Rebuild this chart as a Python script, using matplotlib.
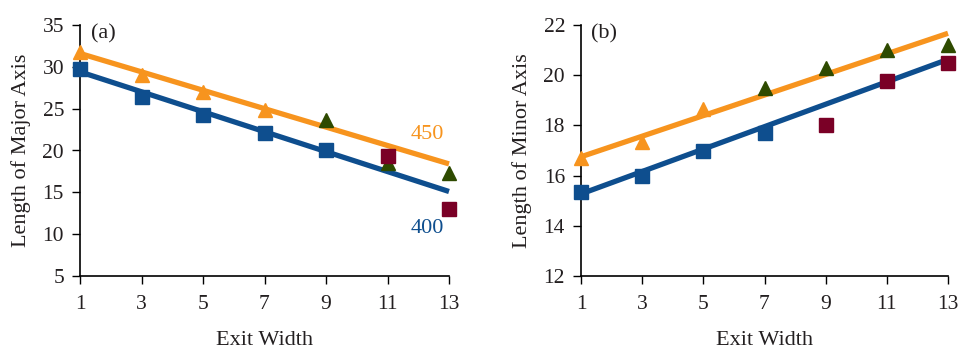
import matplotlib
matplotlib.use("Agg")
import matplotlib.pyplot as plt

plt.rcParams['font.family'] = ['Liberation Serif', 'DejaVu Serif']

# ---- data ----
exit_width = [1, 3, 5, 7, 9, 11, 13]

# Panel (a): Length of Major Axis
a_450_orange_x = [1, 3, 5, 7]
a_450_orange_y = [31.8, 29.0, 27.0, 24.9]
a_450_green_x = [9, 11, 13]
a_450_green_y = [23.6, 18.5, 17.3]
a_400_blue_x = [1, 3, 5, 7, 9]
a_400_blue_y = [29.7, 26.4, 24.3, 22.1, 20.0]
a_400_red_x = [11, 13]
a_400_red_y = [19.4, 13.0]
a_trend_x = [1, 13]
a_trend_450 = [31.6, 18.4]
a_trend_400 = [29.4, 15.1]

# Panel (b): Length of Minor Axis
b_450_orange_x = [1, 3, 5]
b_450_orange_y = [16.7, 17.35, 18.65]
b_450_green_x = [7, 9, 11, 13]
b_450_green_y = [19.5, 20.3, 21.0, 21.2]
b_400_blue_x = [1, 3, 5, 7]
b_400_blue_y = [15.33, 16.0, 17.0, 17.7]
b_400_red_x = [9, 11, 13]
b_400_red_y = [18.0, 19.78, 20.5]
b_trend_x = [1, 13]
b_trend_450 = [16.75, 21.67]
b_trend_400 = [15.27, 20.63]

a_yticks = [5, 10, 15, 20, 25, 30, 35]
b_yticks = [12, 14, 16, 18, 20, 22]

ORANGE = '#F7941E'
BLUE = '#0E4E8E'
GREEN = '#2E4A00'
RED = '#7A0026'
TXT = '#231F20'

fig = plt.figure(figsize=(9.69, 3.59), dpi=100)
ax_a = fig.add_axes([80/969, 83/359, 369/969, 251/359])
ax_b = fig.add_axes([581/969, 83/359, 367/969, 251/359])

def style(ax, ylim, yticks, ylabel, tag):
    ax.set_xlim(1, 13)
    ax.set_ylim(*ylim)
    ax.set_xticks(exit_width)
    ax.set_yticks(yticks)
    for s in ['top', 'right']:
        ax.spines[s].set_visible(False)
    for s in ['left', 'bottom']:
        ax.spines[s].set_linewidth(1.2)
        ax.spines[s].set_color('black')
    ax.tick_params(direction='out', length=6, width=1.0, labelsize=15.5,
                   labelcolor=TXT)
    ax.tick_params(axis='y', pad=5.5)
    ax.tick_params(axis='x', pad=8)
    ax.set_xlabel('Exit Width', fontsize=16, color=TXT, labelpad=12)
    ax.set_ylabel(ylabel, fontsize=16, color=TXT, labelpad=8)
    ax.text(0.062, 0.964, tag, transform=ax.transAxes, ha='center',
            va='center', fontsize=16, color=TXT)

def draw(ax, tx, t450, t400, ox, oy, gx, gy, bx, by, rx, ry):
    ax.plot(tx, t450, color=ORANGE, lw=3.8, solid_capstyle='butt', zorder=2, clip_on=False)
    ax.plot(tx, t400, color=BLUE, lw=3.8, solid_capstyle='butt', zorder=2, clip_on=False)
    kw = dict(linestyle='none', markersize=10, zorder=3, clip_on=False)
    ax.plot(ox, oy, marker='^', color=ORANGE, **kw)
    ax.plot(gx, gy, marker='^', color=GREEN, **kw)
    ax.plot(bx, by, marker='s', color=BLUE, **kw)
    ax.plot(rx, ry, marker='s', color=RED, **kw)

style(ax_a, (5, 35), a_yticks, 'Length of Major Axis', '(a)')
draw(ax_a, a_trend_x, a_trend_450, a_trend_400,
     a_450_orange_x, a_450_orange_y, a_450_green_x, a_450_green_y,
     a_400_blue_x, a_400_blue_y, a_400_red_x, a_400_red_y)
ax_a.text(12.28, 21.86, '450', color=ORANGE, fontsize=16, ha='center', va='center')
ax_a.text(12.28, 10.63, '400', color=BLUE, fontsize=16, ha='center', va='center')

style(ax_b, (12, 22), b_yticks, 'Length of Minor Axis', '(b)')
draw(ax_b, b_trend_x, b_trend_450, b_trend_400,
     b_450_orange_x, b_450_orange_y, b_450_green_x, b_450_green_y,
     b_400_blue_x, b_400_blue_y, b_400_red_x, b_400_red_y)

fig.savefig('out.png', dpi=100)
